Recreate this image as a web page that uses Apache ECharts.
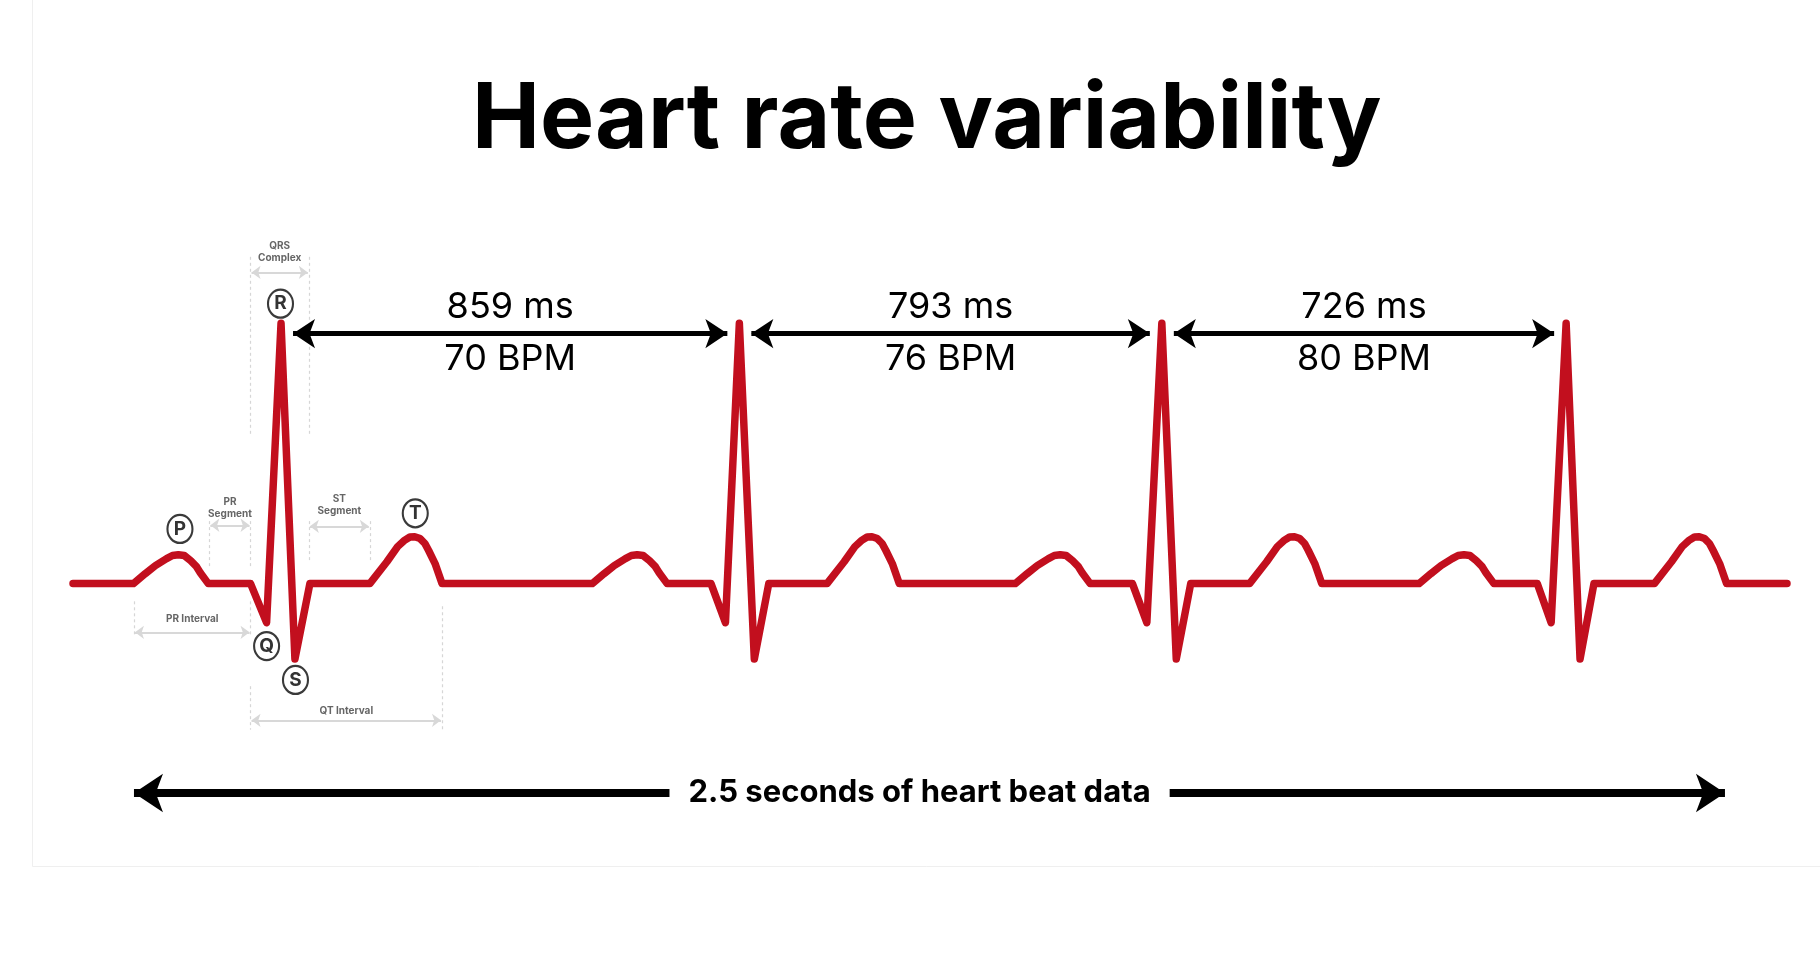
<!DOCTYPE html>
<html>
<head>
<meta charset="utf-8">
<title>Heart rate variability</title>
<script src="https://cdn.jsdelivr.net/npm/echarts@6/dist/echarts.min.js"></script>
<style>
html, body { margin: 0; padding: 0; background: #fff; }
#chart { width: 1820px; height: 954px; }
</style>
</head>
<body>
<div id="chart"></div>
<script>
// ECG trace: time (ms) and amplitude (R peak = 1)
var ecgTime = [0,
  113, 135, 154, 175, 186, 197, 208, 220, 231, 238, 253,
  332, 362, 389, 415, 443,
  555, 587, 607, 619, 630, 639, 649, 658, 665, 677, 690,
  971, 993, 1012, 1033, 1044, 1055, 1066, 1078, 1089, 1096, 1111,
  1193, 1220, 1246, 1274, 1301,
  1410, 1442, 1462, 1474, 1485, 1494, 1504, 1513, 1520, 1532, 1545,
  1762, 1784, 1803, 1824, 1835, 1846, 1857, 1869, 1880, 1887, 1902,
  1981, 2008, 2036, 2063, 2090,
  2200, 2232, 2252, 2264, 2275, 2284, 2294, 2303, 2310, 2322, 2335,
  2517, 2539, 2558, 2579, 2590, 2601, 2612, 2624, 2635, 2642, 2657,
  2738, 2764, 2792, 2818, 2844,
  2957, 2989, 3009, 3021, 3032, 3041, 3051, 3060, 3067, 3079, 3092,
  3205];
var ecgValue = [0,
  0, 0.038, 0.069, 0.096, 0.108, 0.111, 0.108, 0.088, 0.065, 0.042, 0,
  0, -0.15, 1, -0.29, 0,
  0, 0.084, 0.142, 0.165, 0.179, 0.18, 0.173, 0.154, 0.127, 0.077, 0,
  0, 0.038, 0.069, 0.096, 0.108, 0.111, 0.108, 0.088, 0.065, 0.042, 0,
  0, -0.15, 1, -0.29, 0,
  0, 0.084, 0.142, 0.165, 0.179, 0.18, 0.173, 0.154, 0.127, 0.077, 0,
  0, 0.038, 0.069, 0.096, 0.108, 0.111, 0.108, 0.088, 0.065, 0.042, 0,
  0, -0.15, 1, -0.29, 0,
  0, 0.084, 0.142, 0.165, 0.179, 0.18, 0.173, 0.154, 0.127, 0.077, 0,
  0, 0.038, 0.069, 0.096, 0.108, 0.111, 0.108, 0.088, 0.065, 0.042, 0,
  0, -0.15, 1, -0.29, 0,
  0, 0.084, 0.142, 0.165, 0.179, 0.18, 0.173, 0.154, 0.127, 0.077, 0,
  0];

// R-R intervals
var rPeakTime = [389, 1246, 2036, 2792];
var rrMs = [859, 793, 726];
var rrBpm = [70, 76, 80];
var rrArrowValue = 0.96;

// wave letters of the first beat
var waveName = ['P', 'Q', 'R', 'S', 'T'];
var waveTime = [200, 362, 388, 416, 640];
var waveValue = [0.21, -0.24, 1.075, -0.37, 0.27];

// interval brackets of the first beat
var bracketName = ['QRS\nComplex', 'PR\nSegment', 'ST\nSegment', 'PR Interval', 'QT Interval'];
var bracketStart = [332, 255, 441, 114, 332];
var bracketEnd = [441, 332, 555, 332, 690];
var bracketArrowValue = [1.195, 0.224, 0.22, -0.187, -0.525];
var bracketLabelValue = [1.275, 0.292, 0.303, -0.136, -0.488];
var bracketGuideFromStart = [1.255, 0.24, 0.24, -0.068, -0.394];
var bracketGuideFromEnd = [1.255, 0.24, 0.24, -0.068, -0.087];
var bracketGuideTo = [0.57, 0.061, 0.08, -0.196, -0.561];

// whole-span arrow
var spanStart = 114, spanEnd = 3089, spanValue = -0.804;
var spanLabelTime = 1583;
var spanText = '2.5 seconds of heart beat data';

var xMin = 0, xMax = 3205;
var gridLeft = 73, gridRight = 33;
var msPerPx = (xMax - xMin) / (1820 - gridLeft - gridRight);

function arrowPair(x1, x2, y, color, width, head, insetPx) {
  var d = insetPx * msPerPx;
  return [
    { coord: [x1 + d, y], symbol: 'arrow', symbolSize: head, lineStyle: { color: color, width: width, type: 'solid' } },
    { coord: [x2 - d, y], symbol: 'arrow', symbolSize: head }
  ];
}
function guide(x, y1, y2) {
  return [
    { coord: [x, y1], symbol: 'none', lineStyle: { color: '#d6d6d6', width: 1.2, type: [3, 3] } },
    { coord: [x, y2], symbol: 'none' }
  ];
}

var grayLines = [];
bracketName.forEach(function (n, i) {
  grayLines.push(guide(bracketStart[i], bracketGuideFromStart[i], bracketGuideTo[i]));
  grayLines.push(guide(bracketEnd[i], bracketGuideFromEnd[i], bracketGuideTo[i]));
  grayLines.push(arrowPair(bracketStart[i], bracketEnd[i], bracketArrowValue[i], '#d8d8d8', 2, [10, 9], 1));
});

var blackLines = [];
rrMs.forEach(function (v, i) {
  blackLines.push(arrowPair(rPeakTime[i], rPeakTime[i + 1], rrArrowValue, '#000', 5, [22, 22], 12));
});
blackLines.push(arrowPair(spanStart, spanEnd, spanValue, '#000', 8, [29, 29], 0));

var ecgData = ecgTime.map(function (t, i) { return [t, ecgValue[i]]; });
var rrLabelData = rrMs.map(function (v, i) {
  return { value: [(rPeakTime[i] + rPeakTime[i + 1]) / 2, rrArrowValue], name: v + ' ms\n' + rrBpm[i] + ' BPM' };
});
var bracketLabelData = bracketName.map(function (n, i) {
  return { value: [(bracketStart[i] + bracketEnd[i]) / 2, bracketLabelValue[i]], name: n };
});
var waveData = waveName.map(function (n, i) {
  return { value: [waveTime[i], waveValue[i]], name: n };
});

var chart = echarts.init(document.getElementById('chart'));
var hiddenText = { type: 'scatter', symbolSize: 1, itemStyle: { color: 'rgba(0,0,0,0)', opacity: 1 }, silent: true };

var option = {
  animation: false,
  backgroundColor: '#fff',
  title: {
    text: 'Heart rate variability',
    left: 472,
    top: 75,
    padding: 0,
    textStyle: { fontFamily: 'Inter', fontWeight: 'bold', fontSize: 91, color: '#000' }
  },
  graphic: [{
    type: 'rect',
    shape: { x: 32.5, y: -5, width: 1800, height: 871.5 },
    style: { fill: 'none', stroke: '#efefef', lineWidth: 1 },
    silent: true
  }],
  grid: { left: gridLeft, right: gridRight, top: 193, bottom: 110 },
  xAxis: { type: 'value', min: xMin, max: xMax, show: false },
  yAxis: { type: 'value', min: -1, max: 1.5, show: false },
  series: [
    {
      type: 'line', data: [], z: 1, silent: true,
      markLine: { z: 1, silent: true, animation: false, label: { show: false }, emphasis: { disabled: true }, data: grayLines }
    },
    {
      type: 'line', data: ecgData, z: 2, silent: true, showSymbol: false,
      lineStyle: { color: '#c20f1e', width: 7.5, cap: 'round', join: 'round' }
    },
    {
      type: 'line', data: [], z: 3, silent: true,
      markLine: { z: 3, silent: true, animation: false, label: { show: false }, emphasis: { disabled: true }, data: blackLines }
    },
    Object.assign({}, hiddenText, {
      z: 10, data: rrLabelData,
      label: { show: true, position: 'inside', formatter: '{b}', fontFamily: 'Inter', fontSize: 36, lineHeight: 52, color: '#000' }
    }),
    Object.assign({}, hiddenText, {
      z: 10, data: [{ value: [spanLabelTime, spanValue], name: spanText }],
      label: { show: true, position: 'inside', formatter: '{b}', fontFamily: 'Inter', fontWeight: 'bold', fontSize: 31, color: '#000', backgroundColor: '#fff', padding: [8, 19] }
    }),
    Object.assign({}, hiddenText, {
      z: 10, data: bracketLabelData,
      label: { show: true, position: 'inside', formatter: '{b}', fontFamily: 'Inter', fontWeight: 'bold', fontSize: 10, lineHeight: 12, color: '#666' }
    }),
    {
      type: 'scatter', z: 10, silent: true, data: waveData,
      symbol: 'circle', symbolSize: [25, 28],
      itemStyle: { color: '#fff', borderColor: '#3a3a3a', borderWidth: 2.2, opacity: 1 },
      label: { show: true, position: 'inside', formatter: '{b}', fontFamily: 'Inter', fontWeight: 'bold', fontSize: 19, color: '#333' }
    }
  ]
};
chart.setOption(option);
</script>
</body>
</html>
